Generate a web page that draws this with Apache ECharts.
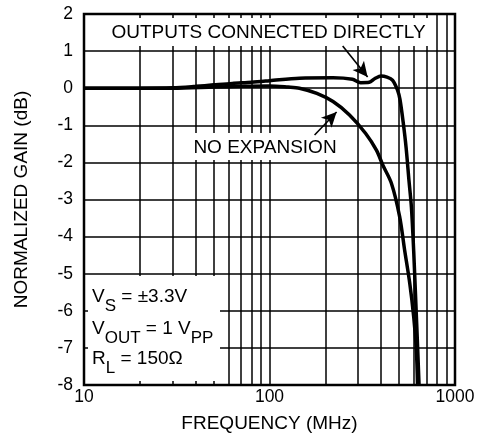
<!DOCTYPE html>
<html>
<head>
<meta charset="utf-8">
<script src="https://cdn.jsdelivr.net/npm/echarts@6/dist/echarts.min.js"></script>
<style>html,body{margin:0;padding:0;background:#fff}#c{width:486px;height:446px}</style>
</head>
<body>
<div id="c"></div>
<script>
// Data
const freqDirect = [10, 20, 30, 40, 50, 63, 80, 100, 145, 220, 280, 310, 345, 370, 400, 430, 460, 490, 505, 525, 545, 565, 582, 599, 614, 629, 640];
const gainDirect = [0, 0, 0.01, 0.05, 0.09, 0.13, 0.16, 0.2, 0.27, 0.28, 0.24, 0.15, 0.16, 0.26, 0.33, 0.3, 0.22, -0.05, -0.3, -0.9, -1.6, -2.5, -3.2, -4.4, -5.7, -7.0, -8];
const freqNoExp = [10, 30, 50, 70, 100, 126, 145, 180, 220, 270, 330, 377, 408, 454, 503, 535, 570, 599, 619, 628];
const gainNoExp = [0, 0, 0.03, 0.05, 0.06, 0.03, 0, -0.14, -0.36, -0.72, -1.22, -1.67, -2.07, -2.56, -3.46, -4.36, -5.25, -6.16, -7.06, -8];
const minorFreqs = [20, 30, 40, 50, 60, 70, 80, 90, 200, 300, 400, 500, 600, 700, 800, 900];
const xMin = 10, xMax = 1000, yMin = -8, yMax = 2, yStep = 1;
// annotation arrows: [start, tip] in data coordinates
const arrowDirect = [[248, 1.14], [338, 0.30]];
const arrowNoExp = [[175, -1.26], [230, -0.64]];

const FONT = '"Liberation Sans", Arial, Helvetica, sans-serif';
const chart = echarts.init(document.getElementById('c'), null, {renderer: 'canvas'});

const zip = (a, b) => a.map((v, i) => [v, b[i]]);
const gridLine = {color: '#000', width: 1.5, type: 'solid'};

const subRich = {
  n: {fontSize: 19, fontFamily: FONT, color: '#000'},
  s: {fontSize: 17, fontFamily: FONT, color: '#000', padding: [18, 0, 0, 0]}
};

chart.setOption({
  animation: false,
  backgroundColor: '#fff',
  grid: {left: 84, right: 31, top: 14, bottom: 61, show: true, borderColor: '#000', borderWidth: 2.5, backgroundColor: 'transparent'},
  xAxis: {
    type: 'log', logBase: 10, min: xMin, max: xMax,
    axisLine: {show: false}, axisTick: {show: false},
    axisLabel: {fontSize: 17.5, color: '#000', fontFamily: FONT, margin: 3, formatter: v => String(v)},
    splitLine: {show: true, lineStyle: gridLine},
    name: 'FREQUENCY (MHz)', nameLocation: 'middle', nameGap: 39,
    nameTextStyle: {fontSize: 19, color: '#000', fontFamily: FONT, verticalAlign: 'middle'}
  },
  yAxis: {
    type: 'value', min: yMin, max: yMax, interval: yStep,
    axisLine: {show: false}, axisTick: {show: false},
    axisLabel: {fontSize: 17.5, color: '#000', fontFamily: FONT, margin: 11},
    splitLine: {show: true, lineStyle: gridLine},
    name: 'NORMALIZED GAIN (dB)', nameLocation: 'middle', nameGap: 62, nameRotate: 90,
    nameTextStyle: {fontSize: 19, color: '#000', fontFamily: FONT, verticalAlign: 'middle'}
  },
  series: [
    {
      type: 'line', data: [], silent: true,
      markLine: {
        z: 1, silent: true, symbol: ['none', 'none'], label: {show: false},
        lineStyle: gridLine, emphasis: {disabled: true},
        data: minorFreqs.map(f => ({xAxis: f}))
      }
    },
    {
      name: 'OUTPUTS CONNECTED DIRECTLY', type: 'line', z: 15, smooth: 0.3,
      showSymbol: false, silent: true,
      lineStyle: {color: '#000', width: 3.5}, itemStyle: {color: '#000'},
      data: zip(freqDirect, gainDirect)
    },
    {
      name: 'NO EXPANSION', type: 'line', z: 15, smooth: 0.3,
      showSymbol: false, silent: true,
      lineStyle: {color: '#000', width: 3.5}, itemStyle: {color: '#000'},
      data: zip(freqNoExp, gainNoExp)
    },
    {
      type: 'line', data: [], silent: true,
      markLine: {
        z: 20, silent: true, symbol: ['none', 'arrow'], symbolSize: [11, 15],
        label: {show: false}, emphasis: {disabled: true},
        lineStyle: {color: '#000', width: 1.6, type: 'solid'},
        data: [
          [{coord: arrowDirect[0]}, {coord: arrowDirect[1]}],
          [{coord: arrowNoExp[0]}, {coord: arrowNoExp[1]}]
        ]
      }
    }
  ],
  graphic: [
    {type: 'rect', z: 10, silent: true, shape: {x: 104, y: 18, width: 328, height: 28}, style: {fill: '#fff'}},
    {type: 'text', z: 11, silent: true, x: 268.5, y: 32.5,
      style: {text: 'OUTPUTS CONNECTED DIRECTLY', fontSize: 19, fontFamily: FONT, fill: '#000', align: 'center', verticalAlign: 'middle'}},
    {type: 'rect', z: 10, silent: true, shape: {x: 186, y: 133, width: 156, height: 27}, style: {fill: '#fff'}},
    {type: 'text', z: 11, silent: true, x: 265, y: 148,
      style: {text: 'NO EXPANSION', fontSize: 19, fontFamily: FONT, fill: '#000', align: 'center', verticalAlign: 'middle'}},
    {type: 'rect', z: 10, silent: true, shape: {x: 88, y: 276, width: 132, height: 105}, style: {fill: '#fff'}},
    {type: 'text', z: 11, silent: true, x: 92, y: 297,
      style: {text: '{n|V}{s|S}{n| = ±3.3V}', rich: subRich, align: 'left', verticalAlign: 'middle'}},
    {type: 'text', z: 11, silent: true, x: 92, y: 329,
      style: {text: '{n|V}{s|OUT}{n| = 1 V}{s|PP}', rich: subRich, align: 'left', verticalAlign: 'middle'}},
    {type: 'text', z: 11, silent: true, x: 92, y: 359,
      style: {text: '{n|R}{s|L}{n| = 150Ω}', rich: subRich, align: 'left', verticalAlign: 'middle'}}
  ]
});
</script>
</body>
</html>
